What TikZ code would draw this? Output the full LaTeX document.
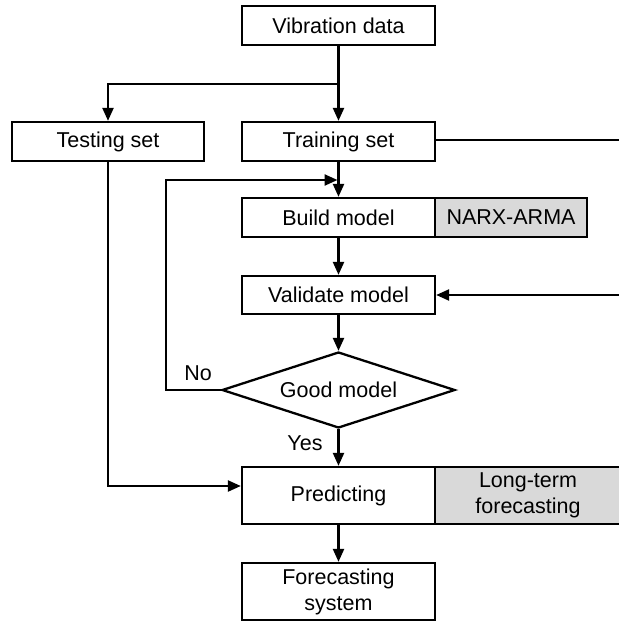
\documentclass[tikz,border=0pt]{standalone}
\usepackage{fontspec}
\setmainfont{Liberation Sans}
\usetikzlibrary{shapes.geometric,arrows.meta}
\begin{document}
\begin{tikzpicture}[x=1pt,y=-1pt,
  every node/.style={font={\fontsize{21.5}{26}\selectfont}},
  box/.style={draw,line width=2.3pt,inner sep=0pt,minimum width=193pt,minimum height=39pt,align=center,fill=white},
  graybox/.style={box,fill={rgb,255:red,217;green,217;blue,217}},
  decision/.style={draw,line width=2.3pt,diamond,inner sep=0pt,minimum width=233pt,minimum height=76pt,aspect=3.07},
  arr/.style={line width=2.3pt,-{Triangle[length=13pt,width=11pt]}},
  ln/.style={line width=2.3pt},
  lbl/.style={inner sep=0pt}]
\useasboundingbox (0,0) rectangle (618,623);
\node[box] (vib) at (338.5,25.5) {Vibration data};
\node[box,minimum width=192pt] (test) at (108,141.5) {Testing set};
\node[box] (train) at (338.5,141.5) {Training set};
\node[box] (build) at (338.5,217.5) {Build model};
\node[graybox,minimum width=152pt] (narx) at (511,217.5) {NARX-ARMA};
\node[box,minimum height=38pt] (valid) at (338.5,295) {Validate model};
\node[decision] (good) at (338.5,390) {Good model};
\node[box,minimum height=57pt] (pred) at (338.5,495.5) {Predicting};
\node[graybox,minimum width=186pt,minimum height=57pt] (long) at (528,495.5) {Long-term\\forecasting};
\node[box,minimum height=57pt] (fore) at (338.5,591.5) {Forecasting\\system};
\node[lbl] (no) at (198,373) {No};
\node[lbl] (yes) at (305,443) {Yes};
\coordinate (split) at (338.5,84);
\coordinate (trainR) at (622,140);
\coordinate (validR) at (622,295);
\coordinate (loopC) at (166,180);
\coordinate (loopE) at (337.5,180);
\draw[arr] (vib) -- (train);
\draw[arr] (split) -| (test.north);
\draw[ln] (train.east |- trainR) -- (trainR);
\draw[arr] (validR) -- (valid.east);
\draw[arr] (train) -- (build);
\draw[arr] (good.west) -| (loopC) -- (loopE);
\draw[arr] (build) -- (valid);
\draw[arr] (valid) -- (good);
\draw[arr] (good) -- (pred);
\draw[arr] (pred) -- (fore);
\draw[arr] (test.south) |- ([yshift=9.5pt]pred.west);
\end{tikzpicture}
\end{document}
